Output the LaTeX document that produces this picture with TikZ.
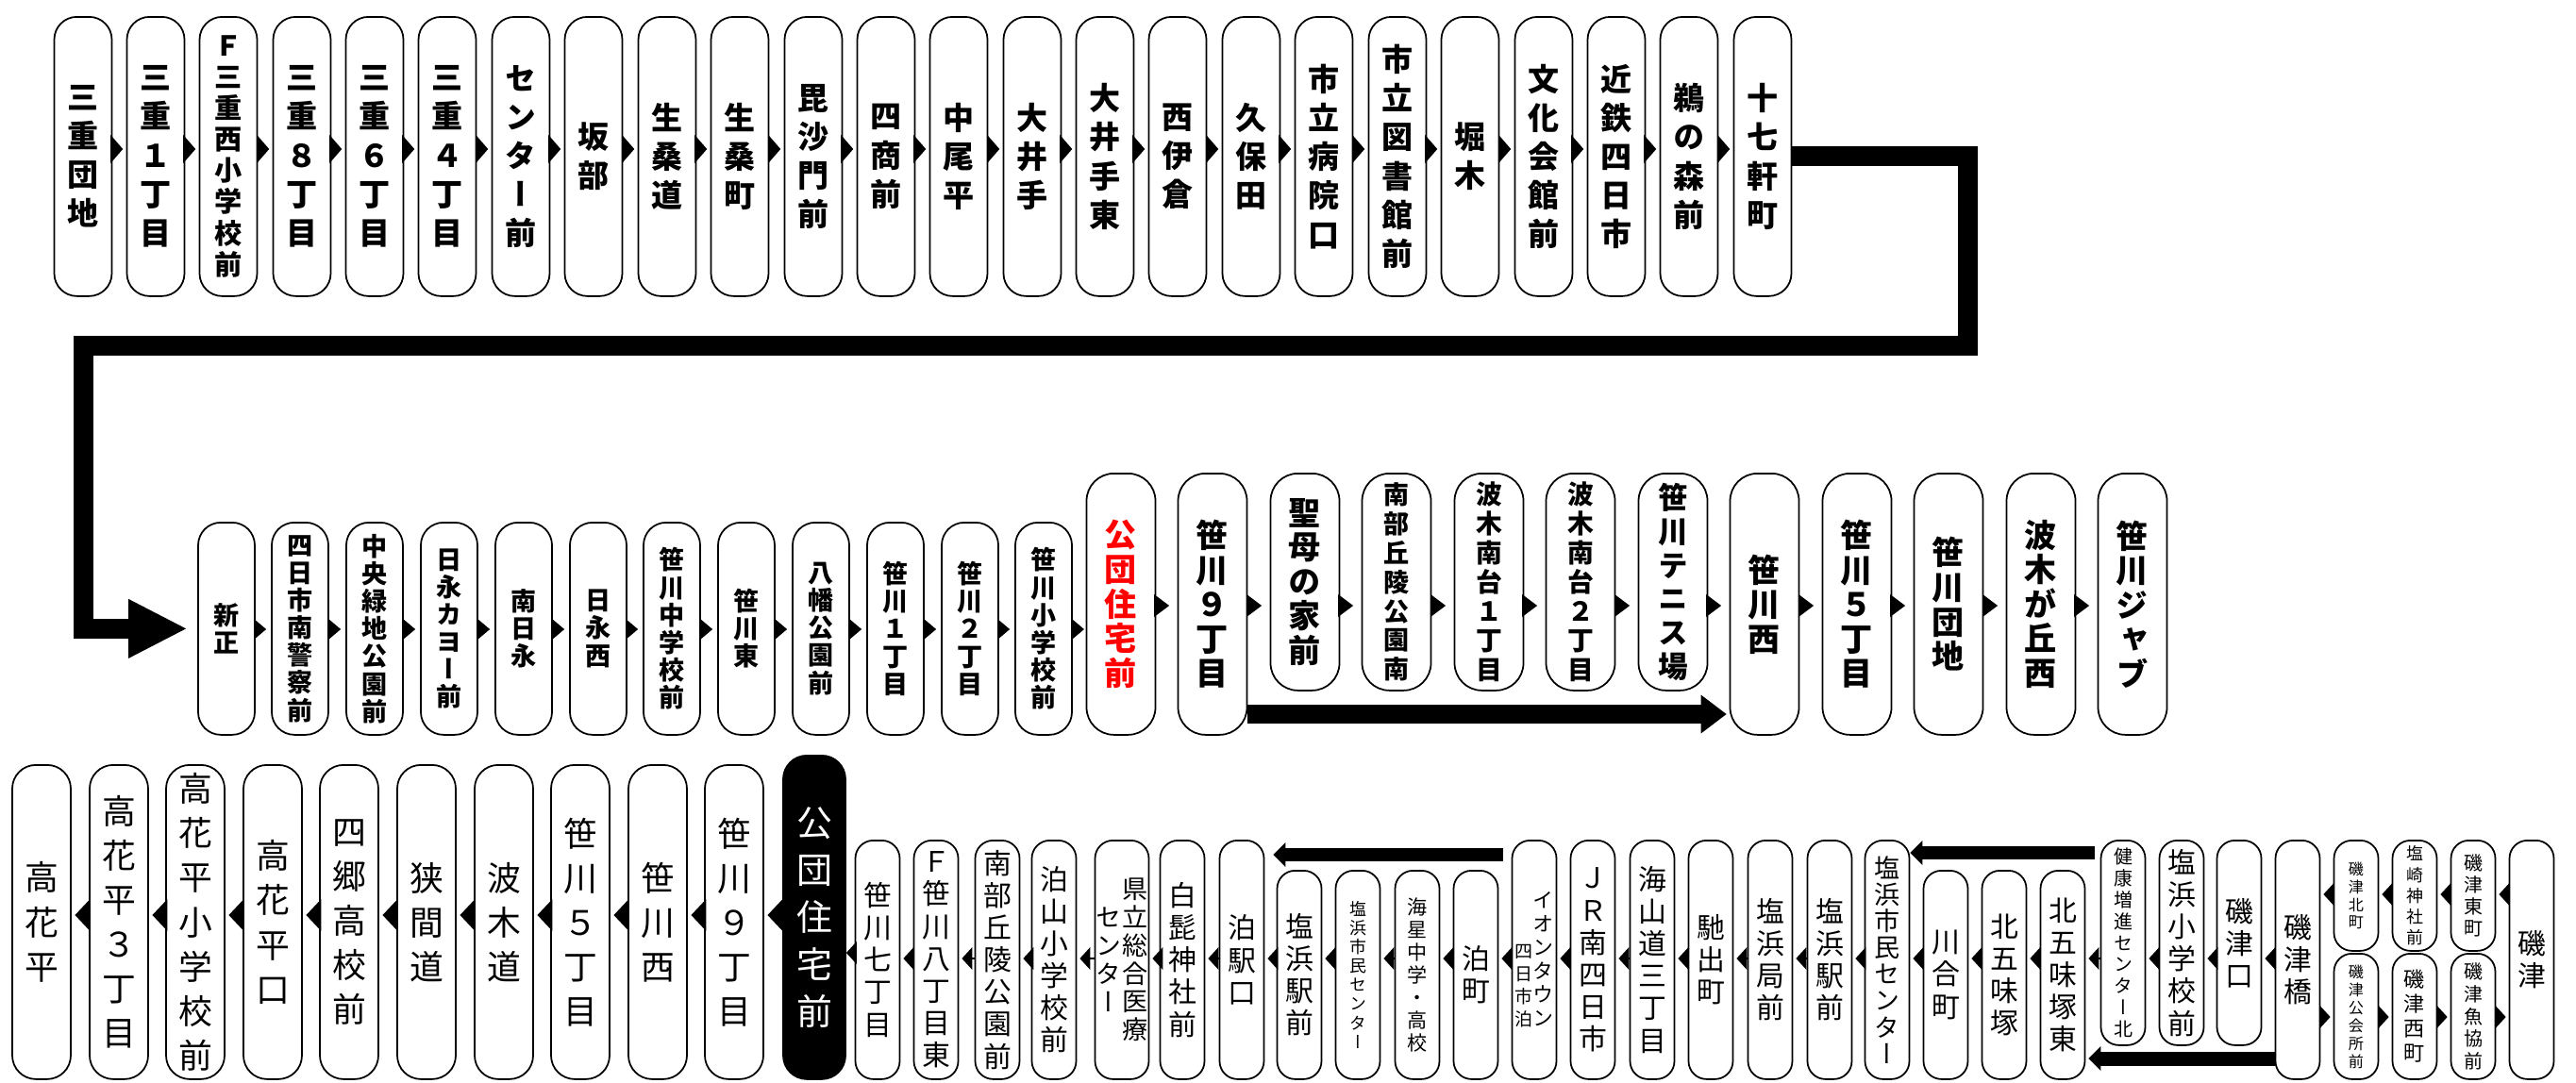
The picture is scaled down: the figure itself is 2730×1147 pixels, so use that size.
\documentclass[tikz,border=0pt]{standalone}
\usepackage{fontspec}
\usetikzlibrary{arrows.meta}
\newfontfamily\jp[RawFeature=+vert]{Noto Sans CJK JP}

\makeatletter
% one character per line for the stop names
\newcommand\tate[1]{\vbox{\@tfor\@ch:=#1\do{\hbox to 1em{\hss\@ch\hss}}}}
\newcommand\tatecol[2][c]{\parbox[#1]{1em}{\tate{#2}}}
\makeatother

\tikzset{
  fb/.style 2 args={font=\jp\bfseries\fontsize{#1pt}{#2pt}\selectfont},
  fr/.style 2 args={font=\jp\fontsize{#1pt}{#2pt}\selectfont},
  busstop/.style={draw, line width=0.5pt, fill=white, inner sep=0pt, anchor=north},
  topbox/.style={busstop, minimum width=6.1mm, minimum height=29.6mm, rounded corners=2.4mm, fb={9.4}{11.7}},
  midbox/.style={busstop, minimum width=6mm, minimum height=22.5mm, rounded corners=2.4mm, fb={7.7}{8.3}},
  bigbox/.style={busstop, minimum width=7.3mm, minimum height=27.7mm, rounded corners=2.9mm, fb={9.7}{10.4}},
  shortbox/.style={bigbox, minimum height=23mm},
  lowbox/.style={busstop, minimum width=6.2mm, minimum height=33.3mm, rounded corners=2.5mm, fr={10.2}{13.4}},
  endbox/.style={busstop, minimum width=4.7mm, minimum height=25.3mm, rounded corners=1.9mm, fr={8.5}{9.7}},
  dipbox/.style={endbox, minimum height=22.1mm},
  cutbox/.style={endbox, minimum height=21.7mm},
  capbox/.style={endbox, minimum height=11.7mm},
  footbox/.style={endbox, minimum height=13.3mm},
  hopA/.style={-{Triangle[length=1.3mm,width=3mm,line width=0pt]}, shorten >=0.34mm},
  hopB/.style={-{Triangle[length=1.3mm,width=2.2mm,line width=0pt]}, shorten >=0.5mm},
  hopC/.style={-{Triangle[length=1.6mm,width=2.4mm,line width=0pt]}, shorten >=0.85mm},
  hopD/.style={-{Triangle[length=1.6mm,width=3.4mm,line width=0pt]}, shorten >=0.36mm},
  hopE/.style={-{Triangle[length=1.1mm,width=2.4mm,line width=0pt]}, shorten >=0.3mm},
  wrapline/.style={line width=2.1mm, -{Triangle[length=6.1mm,width=6.3mm,line width=0pt]}},
  jumpline/.style={line width=2mm, -{Triangle[length=2.7mm,width=4.1mm,line width=0pt]}},
  expressline/.style={line width=1.4mm, -{Triangle[length=1.3mm,width=2.6mm,line width=0pt]}}
}

\begin{document}
\begin{tikzpicture}[x=0.1mm, y=-0.1mm]
    \useasboundingbox (0,0) rectangle (2730,1147);

    % Top row
    \node[topbox] (t1) at (88,17) {\tate{三重団地}};
    \node[topbox] (t2) at (165,17) {\tate{三重１丁目}};
    \node[topbox, fb={8.3}{9.4}] (t3) at (242,17) {\tate{Ｆ三重西小学校前}};
    \node[topbox] (t4) at (320,17) {\tate{三重８丁目}};
    \node[topbox] (t5) at (397,17) {\tate{三重６丁目}};
    \node[topbox] (t6) at (474,17) {\tate{三重４丁目}};
    \node[topbox] (t7) at (552,17) {\tate{センター前}};
    \node[topbox] (t8) at (629,17) {\tate{坂部}};
    \node[topbox] (t9) at (707,17) {\tate{生桑道}};
    \node[topbox] (t10) at (784,17) {\tate{生桑町}};
    \node[topbox] (t11) at (862,17) {\tate{毘沙門前}};
    \node[topbox] (t12) at (939,17) {\tate{四商前}};
    \node[topbox] (t13) at (1016,17) {\tate{中尾平}};
    \node[topbox] (t14) at (1094,17) {\tate{大井手}};
    \node[topbox] (t15) at (1171,17) {\tate{大井手東}};
    \node[topbox] (t16) at (1248,17) {\tate{西伊倉}};
    \node[topbox] (t17) at (1326,17) {\tate{久保田}};
    \node[topbox] (t18) at (1403,17) {\tate{市立病院口}};
    \node[topbox] (t19) at (1481,17) {\tate{市立図書館前}};
    \node[topbox] (t20) at (1558,17) {\tate{堀木}};
    \node[topbox] (t21) at (1636,17) {\tate{文化会館前}};
    \node[topbox] (t22) at (1713,17) {\tate{近鉄四日市}};
    \node[topbox] (t23) at (1790,17) {\tate{鵜の森前}};
    \node[topbox] (t24) at (1868,17) {\tate{十七軒町}};

    % Middle row
    \node[midbox] (m1) at (240,553) {\tate{新正}};
    \node[midbox] (m2) at (318,553) {\tate{四日市南警察前}};
    \node[midbox] (m3) at (397,553) {\tate{中央緑地公園前}};
    \node[midbox] (m4) at (476,553) {\tate{日永カヨー前}};
    \node[midbox] (m5) at (555,553) {\tate{南日永}};
    \node[midbox] (m6) at (634,553) {\tate{日永西}};
    \node[midbox] (m7) at (712,553) {\tate{笹川中学校前}};
    \node[midbox] (m8) at (791,553) {\tate{笹川東}};
    \node[midbox] (m9) at (870,553) {\tate{八幡公園前}};
    \node[midbox] (m10) at (949,553) {\tate{笹川１丁目}};
    \node[midbox] (m11) at (1028,553) {\tate{笹川２丁目}};
    \node[midbox] (m12) at (1106,553) {\tate{笹川小学校前}};
    \node[bigbox, text=red] (m13) at (1188,501) {\tate{公団住宅前}};
    \node[bigbox] (m14) at (1285,501) {\tate{笹川９丁目}};
    \node[shortbox] (m15) at (1383,501) {\tate{聖母の家前}};
    \node[shortbox, fb={7.7}{8.8}] (m16) at (1480,501) {\tate{南部丘陵公園南}};
    \node[shortbox, fb={7.9}{8.8}] (m17) at (1578,501) {\tate{波木南台１丁目}};
    \node[shortbox, fb={7.9}{8.8}] (m18) at (1675,501) {\tate{波木南台２丁目}};
    \node[shortbox, fb={9}{10.2}] (m19) at (1773,501) {\tate{笹川テニス場}};
    \node[bigbox] (m20) at (1870,501) {\tate{笹川西}};
    \node[bigbox] (m21) at (1968,501) {\tate{笹川５丁目}};
    \node[bigbox] (m22) at (2065,501) {\tate{笹川団地}};
    \node[bigbox] (m23) at (2163,501) {\tate{波木が丘西}};
    \node[bigbox] (m24) at (2260,501) {\tate{笹川ジャブ}};

    % Bottom row, left part
    \node[lowbox] (b1) at (44,810) {\tate{高花平}};
    \node[lowbox] (b2) at (126,810) {\tate{高花平３丁目}};
    \node[lowbox] (b3) at (207,810) {\tate{高花平小学校前}};
    \node[lowbox] (b4) at (289,810) {\tate{高花平口}};
    \node[lowbox] (b5) at (370,810) {\tate{四郷高校前}};
    \node[lowbox] (b6) at (452,810) {\tate{狭間道}};
    \node[lowbox] (b7) at (534,810) {\tate{波木道}};
    \node[lowbox] (b8) at (615,810) {\tate{笹川５丁目}};
    \node[lowbox] (b9) at (697,810) {\tate{笹川西}};
    \node[lowbox] (b10) at (778,810) {\tate{笹川９丁目}};
    \node[lowbox, fill=black, text=white, minimum width=6.6mm, minimum height=34.3mm, fr={10.8}{14.2}] (b11) at (863,800) {\tate{公団住宅前}};

    % Bottom row, right part
    \node[endbox] (c1) at (930,890) {\tate{笹川七丁目}};
    \node[endbox] (c2) at (992,890) {\tate{Ｆ笹川八丁目東}};
    \node[endbox] (c3) at (1057,890) {\tate{南部丘陵公園前}};
    \node[endbox] (c4) at (1117,890) {\tate{泊山小学校前}};
    \node[endbox, minimum width=5.7mm, fr={7.7}{8.5}] (c5) at (1189,890) {\tatecol{センター}\tatecol{県立総合医療}};
    \node[endbox] (c6) at (1253,890) {\tate{白髭神社前}};
    \node[endbox] (c7) at (1316,890) {\tate{泊駅口}};
    \node[dipbox] (c8) at (1377,922) {\tate{塩浜駅前}};
    \node[dipbox, fr={5.1}{5.7}] (c9) at (1439,922) {\tate{塩浜市民センター}};
    \node[dipbox, fr={6}{6.8}] (c10) at (1502,922) {\tate{海星中学・高校}};
    \node[dipbox] (c11) at (1564,922) {\tate{泊町}};
    \node[endbox, fr={6.3}{7.1}] (c12) at (1626,890) {{\fontsize{5.4pt}{6.8pt}\selectfont\tatecol[b]{四日市泊}}\tatecol[b]{イオンタウン}};
    \node[endbox] (c13) at (1688,890) {\tate{ＪＲ南四日市}};
    \node[endbox] (c14) at (1751,890) {\tate{海山道三丁目}};
    \node[endbox] (c15) at (1813,890) {\tate{馳出町}};
    \node[endbox] (c16) at (1876,890) {\tate{塩浜局前}};
    \node[endbox] (c17) at (1939,890) {\tate{塩浜駅前}};
    \node[endbox, fr={7.7}{8}] (c18) at (2000,890) {\tate{塩浜市民センター}};
    \node[dipbox] (c19) at (2062,922) {\tate{川合町}};
    \node[dipbox] (c20) at (2124,922) {\tate{北五味塚}};
    \node[dipbox] (c21) at (2186,922) {\tate{北五味塚東}};
    \node[cutbox, fr={5.7}{6.5}] (c22) at (2250,890) {\tate{健康増進センター北}};
    \node[cutbox] (c23) at (2312,890) {\tate{塩浜小学校前}};
    \node[cutbox] (c24) at (2373,890) {\tate{磯津口}};
    \node[endbox] (c25) at (2435,890) {\tate{磯津橋}};
    \node[capbox, fr={4.6}{5.4}] (c26) at (2497,890) {\tate{磯津北町}};
    \node[capbox, fr={5.1}{6.3}] (c27) at (2559,890) {\tate{塩崎神社前}};
    \node[capbox, fr={5.7}{6.5}] (c28) at (2621,890) {\tate{磯津東町}};
    \node[footbox, fr={4.6}{5.4}] (c29) at (2497,1010) {\tate{磯津公会所前}};
    \node[footbox, fr={6.3}{7.4}] (c30) at (2559,1010) {\tate{磯津西町}};
    \node[footbox, fr={5.7}{6.8}] (c31) at (2621,1010) {\tate{磯津魚協前}};
    \node[endbox] (c32) at (2683,890) {\tate{磯津}};

    % Heights of the small arrow heads
    \coordinate (h1) at (0,158);
    \coordinate (h2) at (0,667);
    \coordinate (h3) at (0,642);
    \coordinate (h4) at (0,970);
    \coordinate (h5) at (0,1016);
    \coordinate (h6) at (0,948);
    \coordinate (h7) at (0,1078);
    \coordinate (h8) at (0,1010);

    % Small arrow heads
    \foreach \i [evaluate=\i as \j using int(\i+1)] in {1,...,23}
        \draw[hopA] (t\i.east |- h1) -- (t\j.west |- h1);
    \foreach \i [evaluate=\i as \j using int(\i+1)] in {1,...,11}
        \draw[hopB] (m\i.east |- h2) -- (m\j.west |- h2);
    \draw[hopB, shorten >=0.17mm] (m12.east |- h2) -- (m13.west |- h2);
    \foreach \i [evaluate=\i as \j using int(\i+1)] in {13,...,23}
        \draw[hopC] (m\i.east |- h3) -- (m\j.west |- h3);
    \foreach \i [evaluate=\i as \j using int(\i+1)] in {1,...,10}
        \draw[hopD] (b\j.west |- h4) -- (b\i.east |- h4);
    \draw[hopE, shorten >=0mm] (c1.west |- h8) -- (b11.east |- h8);
    \foreach \i [evaluate=\i as \j using int(\i+1)] in {1,...,24}
        \draw[hopE] (c\j.west |- h5) -- (c\i.east |- h5);
    \draw[hopE] (c32.west |- h6) -- (c28.east |- h6);
    \draw[hopE] (c28.west |- h6) -- (c27.east |- h6);
    \draw[hopE] (c27.west |- h6) -- (c26.east |- h6);
    \draw[hopE] (c26.west |- h6) -- (c25.east |- h6);
    \draw[hopE] (c25.east |- h7) -- (c29.west |- h7);
    \draw[hopE] (c29.east |- h7) -- (c30.west |- h7);
    \draw[hopE] (c30.east |- h7) -- (c31.west |- h7);
    \draw[hopE] (c31.east |- h7) -- (c32.west |- h7);

    % Thick arrows
    \coordinate (cR) at (2085,366);
    \coordinate (cL) at (88,366);
    \draw[wrapline, shorten >=1.2mm] (t24.east) -| (cR) -- (cL) |- (m1.west);

    \coordinate (yB) at (0,757);
    \draw[jumpline, shorten >=0.3mm] (m14.east |- yB) -- (m20.west |- yB);

    \coordinate (yC) at (0,906);
    \coordinate (yD) at (0,904);
    \coordinate (yE) at (0,1122);
    \draw[expressline, shorten <=0.9mm, shorten >=0.9mm] (c12.west |- yC) -- (c7.east |- yC);
    \draw[expressline, shorten <=0.6mm] (c22.west |- yD) -- (c18.east |- yD);
    \draw[expressline, line width=1.5mm, shorten >=0.3mm] (c25.west |- yE) -- (c21.east |- yE);
\end{tikzpicture}
\end{document}
